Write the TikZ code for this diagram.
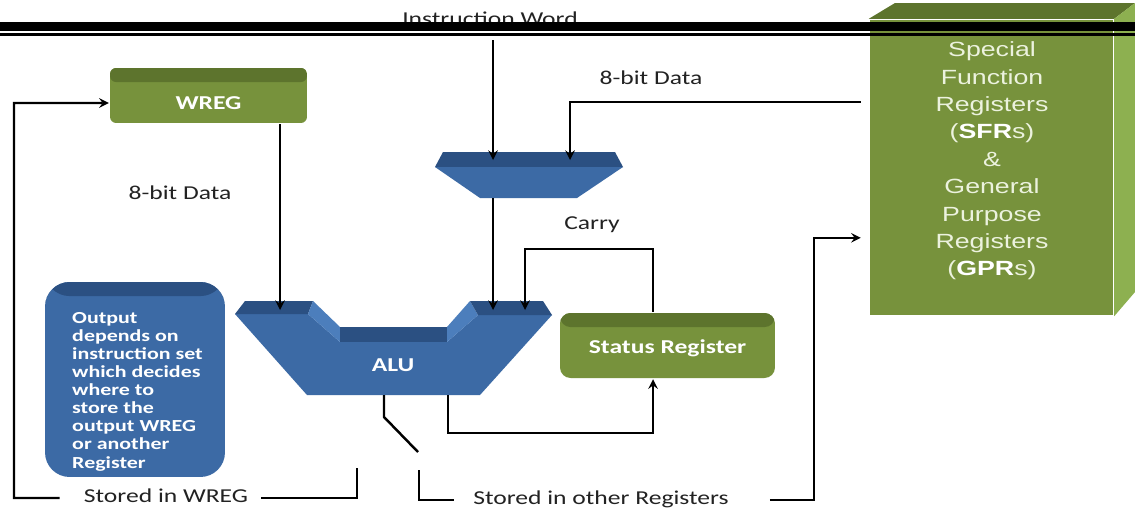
\documentclass[tikz,border=0pt]{standalone}
\usepackage{fontspec}
\setmainfont{Carlito}[FakeStretch=1.3]
\newfontfamily\sfrfont{Liberation Sans}[FakeStretch=1.3]
\usetikzlibrary{calc,positioning}
\definecolor{boxgreen}{RGB}{119,146,60}
\definecolor{topgreen}{RGB}{93,116,45}
\definecolor{sidegreen}{RGB}{141,176,80}
\definecolor{alublue}{RGB}{60,106,165}
\definecolor{topblue}{RGB}{43,80,130}
\definecolor{slopeblue}{RGB}{76,126,188}
\definecolor{paletext}{RGB}{236,242,222}
\definecolor{labelgray}{RGB}{34,34,34}

\tikzset{
  panel/.style 2 args={fill=#1, inner sep=0pt,
    path picture={\fill[#2] (path picture bounding box.north west) rectangle ([yshift=-8pt]path picture bounding box.north east);}},
  greenbox/.style={panel={boxgreen}{topgreen}, rounded corners=#1},
  greenbox/.default=4pt,
  notebox/.style={panel={alublue}{topblue}, rounded corners=14pt},
  sfrface/.style={fill=boxgreen, inner sep=0pt},
  boxtext/.style={font=\bfseries\fontsize{11.2}{13}\selectfont, text=white, inner sep=0pt},
  notetext/.style={font=\bfseries\fontsize{9.6}{10.3}\selectfont, text=white, align=left, inner sep=0pt},
  sfrtext/.style={font=\sfrfont\fontsize{11.7}{15.6}\selectfont, text=paletext, align=center, inner sep=0pt},
  lbl/.style={font=\fontsize{11.2}{13}\selectfont, text=labelgray, inner sep=0pt, text height=7pt, text depth=2pt}
}

\begin{document}
\begin{tikzpicture}[x=0.02cm, y=-0.02cm, >=stealth, line width=1.4pt]
  \fill[white] (0,0) rectangle (1135,514);
  \useasboundingbox (0,0) rectangle (1135,514);

  % register file block
  \node[sfrface, minimum width=4.86cm, minimum height=5.9cm] (sfr) at (991.5,167.5) {};
  \fill[topgreen] (sfr.north west) -- (895,3) -- (1135,3) -- (sfr.north east) -- cycle;
  \fill[sidegreen] (sfr.north east) -- (1135,3) -- (1135,292) -- (sfr.south east) -- cycle;
  \node[sfrtext] (sfrlabel) at (992,161) {Special\\Function\\Registers\\({\color{white}\bfseries SFR}s)\\\&\\General\\Purpose\\Registers\\({\color{white}\bfseries GPR}s)};

  % boxes
  \node[greenbox=3.5pt, minimum width=3.94cm, minimum height=1.1cm,
    label={[boxtext, yshift=-4.5pt]center:WREG}] (wreg) at (208.5,95.5) {};
  \node[greenbox=6pt, minimum width=4.3cm, minimum height=1.3cm,
    label={[boxtext, yshift=-1.5pt]center:Status Register}] (status) at (667.5,345.5) {};
  \node[notebox, minimum width=3.6cm, minimum height=3.9cm] (note) at (135,379.5) {};
  \node[notetext, anchor=north west] (notelabel) at (71,311) {Output\\depends on\\instruction set\\which decides\\where to\\store the\\output WREG\\or another\\Register};

  % multiplexer
  \fill[topblue] (443,152) -- (615,152) -- (623,167) -- (435,167) -- cycle;
  \fill[alublue] (435,167) -- (623,167) -- (577,198) -- (480,198) -- cycle;
  \coordinate (mux-in1) at (493,160);
  \coordinate (mux-in2) at (570,160);
  \coordinate (mux-out) at (493,198);

  % ALU
  \fill[alublue] (235,314) -- (308,314) -- (340,342) -- (447,342) -- (478,315) -- (552,315) -- (480,395) -- (307,395) -- cycle;
  \fill[topblue] (245,301) -- (313,301) -- (308,314) -- (235,314) -- cycle;
  \fill[slopeblue] (313,301) -- (340,327) -- (340,342) -- (308,314) -- cycle;
  \fill[topblue] (340,327) -- (447,327) -- (447,342) -- (340,342) -- cycle;
  \fill[slopeblue] (447,327) -- (470,301) -- (478,315) -- (447,342) -- cycle;
  \fill[topblue] (470,301) -- (543,301) -- (552,315) -- (478,315) -- cycle;
  \node[boxtext] (alu) at (393,365) {ALU};
  \coordinate (alu-in1) at (280,310);
  \coordinate (alu-in2) at (493,310);
  \coordinate (alu-in3) at (525,310);
  \coordinate (alu-out1) at (384,395);
  \coordinate (alu-out2) at (448,395);

  % labels
  \node[lbl, anchor=base] (instrlabel) at (490,25.5) {Instruction Word};
  \node[lbl] (datasfr) at (651,80) {8-bit Data};
  \node[lbl] (datawreg) at (180,195) {8-bit Data};
  \node[lbl] (carry) at (592,225) {Carry};
  \node[lbl] (storedwreg) at (166,498) {Stored in WREG};
  \node[lbl] (storedother) at (601,500) {Stored in other Registers};

  % wires
  \coordinate (instr) at (493,40);
  \draw[->] (instr) -- (mux-in1);
  \draw[->] ($(sfr.north west)+(-8,83)$) -| (mux-in2);
  \draw[->] (mux-out) -- (alu-in2);
  \draw[->] (wreg.south -| alu-in1) -- (alu-in1);
  \draw[->] ($(status.north)+(-14.5,0)$) -- ++(0,-63) -| (alu-in3);
  \draw[->] (alu-out2) -- ++(0,38) -| ($(status.south)+(-14.5,0)$);

  % output switch
  \coordinate (sw-end) at (418,452);
  \draw (alu-out1) -- ++(0,22) -- (sw-end);
  \coordinate (sw-a) at (419,470);
  \draw (sw-a) |- ($(storedother.west)+(-18,0)$);
  \draw[->] ($(storedother.east)+(40,0)$) -| ($(sfr.north west)+(-55,219)$) -- ($(sfr.north west)+(-8,219)$);
  \coordinate (sw-b) at (357,468);
  \draw (sw-b) |- ($(storedwreg.east)+(12,0)$);
  \draw[->] ($(storedwreg.west)+(-23,0)$) -| (14,103) -- ($(wreg.west)+(0,7.5)$);

  % header rule
  \fill[black] (0,21.5) rectangle (1135,31);
  \fill[black] (0,33) rectangle (1135,35.5);
\end{tikzpicture}
\end{document}
